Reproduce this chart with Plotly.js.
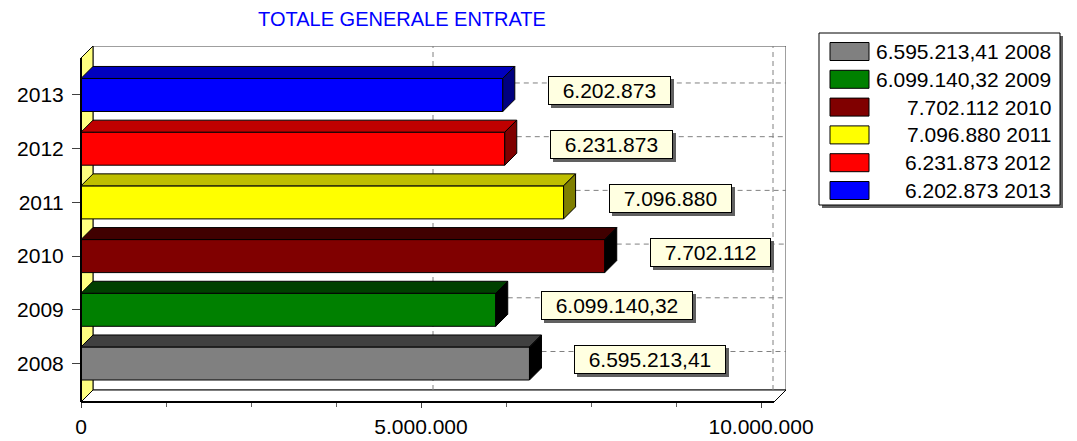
<!DOCTYPE html>
<html>
<head>
<meta charset="utf-8">
<script src="https://cdn.plot.ly/plotly-3.0.1.min.js"></script>
<style>
  html, body { margin: 0; padding: 0; background: #ffffff; }
  #chart { width: 1077px; height: 441px; }
</style>
</head>
<body>
<div id="chart"></div>
<script>
// data
const years = ['2008', '2009', '2010', '2011', '2012', '2013'];
const values = [6595213.41, 6099140.32, 7702112, 7096880, 6231873, 6202873];
const barColors = ['#808080', '#008000', '#800000', '#FFFF00', '#FF0000', '#0000FF'];
const xTicks = [0, 5000000, 10000000];

// plot box in pixels (front axes + 3D depth)
const L = 81, T = 46, W = 705, H = 356, DEPTH = 12;
const xMax = 10367650;
const yMin = -0.717, yMax = 5.912;
const dx = xMax * DEPTH / W;
const dy = (yMax - yMin) * DEPTH / H;
const xMaxFront = xMax - dx, yMaxFront = yMax - dy;
const barHalf = 0.3075;
const font = 'Liberation Sans, Arial, sans-serif';

const idx = years.map((_, i) => i);

function shade(hex, amt) {
  const n = parseInt(hex.slice(1), 16);
  const c = [(n >> 16) & 255, (n >> 8) & 255, n & 255].map(v => Math.max(v - amt, 0));
  return 'rgb(' + c.join(',') + ')';
}

function fmtIt(v) {
  let [ip, dp] = v.toFixed(2).split('.');
  ip = ip.replace(/\B(?=(\d{3})+(?!\d))/g, '.');
  return dp === '00' ? ip : ip + ',' + dp;
}

const px2x = px => (px - L) / W;
const px2y = py => (T + H - py) / H;

// front faces
const traces = [{
  type: 'bar',
  orientation: 'h',
  x: values,
  y: idx,
  base: 0,
  width: barHalf * 2,
  marker: { color: barColors, line: { color: '#000000', width: 1 } },
  hoverinfo: 'skip'
}];

// top and side faces
idx.forEach(i => {
  const v = values[i];
  traces.push({
    type: 'scatter', mode: 'lines', fill: 'toself',
    x: [0, v, v + dx, dx, 0],
    y: [i + barHalf, i + barHalf, i + barHalf + dy, i + barHalf + dy, i + barHalf],
    fillcolor: shade(barColors[i], 64),
    line: { color: '#000000', width: 1 },
    hoverinfo: 'skip'
  });
  traces.push({
    type: 'scatter', mode: 'lines', fill: 'toself',
    x: [v, v + dx, v + dx, v, v],
    y: [i - barHalf, i - barHalf + dy, i + barHalf + dy, i + barHalf, i - barHalf],
    fillcolor: shade(barColors[i], 128),
    line: { color: '#000000', width: 1 },
    hoverinfo: 'skip'
  });
});

const shapes = [];
// back wall
shapes.push({ type: 'rect', xref: 'x', yref: 'y', layer: 'below',
  x0: dx, x1: xMax, y0: yMin + dy, y1: yMax,
  fillcolor: '#ffffff', line: { color: '#404040', width: 1 } });
// left wall
shapes.push({ type: 'path', xref: 'x', yref: 'y', layer: 'below',
  path: `M0,${yMin} L0,${yMaxFront} L${dx},${yMax} L${dx},${yMin + dy} Z`,
  fillcolor: '#FFFF80', line: { color: '#000000', width: 1 } });
// floor
shapes.push({ type: 'path', xref: 'x', yref: 'y', layer: 'below',
  path: `M0,${yMin} L${xMaxFront},${yMin} L${xMax},${yMin + dy} L${dx},${yMin + dy} Z`,
  fillcolor: '#ffffff', line: { color: '#000000', width: 1 } });
// dashed grid on the back wall
xTicks.slice(1).forEach(t => {
  shapes.push({ type: 'line', xref: 'x', yref: 'y', layer: 'below',
    x0: t + dx, x1: t + dx, y0: yMin + dy, y1: yMax,
    line: { color: '#808080', width: 1, dash: '5px,4px' } });
});
idx.forEach(i => {
  shapes.push({ type: 'line', xref: 'x', yref: 'y', layer: 'below',
    x0: values[i] + dx, x1: xMax, y0: i + dy, y1: i + dy,
    line: { color: '#808080', width: 1, dash: '5px,4px' } });
});
// front axis lines
shapes.push({ type: 'line', xref: 'paper', yref: 'paper', layer: 'above',
  x0: 0, x1: 0, y0: 0, y1: (yMaxFront - yMin) / (yMax - yMin),
  line: { color: '#000000', width: 2 } });
shapes.push({ type: 'line', xref: 'paper', yref: 'paper', layer: 'above',
  x0: 0, x1: xMaxFront / xMax, y0: 0, y1: 0,
  line: { color: '#000000', width: 2 } });

// value labels with shadow
const annotations = [];
idx.forEach(i => {
  const txt = '\u00a0\u00a0' + fmtIt(values[i]) + '\u00a0\u00a0';
  const common = { xref: 'x', yref: 'y', x: values[i], y: i, showarrow: false,
    xanchor: 'left', yanchor: 'middle', borderwidth: 1, borderpad: 2 };
  annotations.push(Object.assign({}, common, {
    text: txt, xshift: 48, yshift: 1,
    bgcolor: '#606060', bordercolor: '#606060',
    font: { family: font, size: 21, color: '#606060' } }));
  annotations.push(Object.assign({}, common, {
    text: txt, xshift: 45, yshift: 4,
    bgcolor: '#FFFFE1', bordercolor: '#000000',
    font: { family: font, size: 21, color: '#000000' } }));
});

// legend box
const legTop = 33, legRow = 27.8, legFirst = 51.5;
shapes.push({ type: 'rect', xref: 'paper', yref: 'paper',
  x0: px2x(822), x1: px2x(1063), y0: px2y(36), y1: px2y(208),
  fillcolor: '#606060', line: { width: 0 } });
shapes.push({ type: 'rect', xref: 'paper', yref: 'paper',
  x0: px2x(819), x1: px2x(1060), y0: px2y(legTop), y1: px2y(205),
  fillcolor: '#ffffff', line: { color: '#000000', width: 1 } });
idx.forEach(i => {
  const cy = legFirst + i * legRow;
  shapes.push({ type: 'rect', xref: 'paper', yref: 'paper',
    x0: px2x(830), x1: px2x(869), y0: px2y(cy - 9), y1: px2y(cy + 9),
    fillcolor: barColors[i], line: { color: '#000000', width: 1 } });
  annotations.push({ xref: 'paper', yref: 'paper', x: px2x(1053), y: px2y(cy),
    xanchor: 'right', yanchor: 'middle', showarrow: false,
    text: fmtIt(values[i]) + ' ' + years[i],
    font: { family: font, size: 21, color: '#000000' } });
});

const layout = {
  width: 1077,
  height: 441,
  margin: { l: L, r: 1077 - L - W, t: T, b: 441 - T - H },
  paper_bgcolor: '#ffffff',
  plot_bgcolor: '#ffffff',
  separators: ',.',
  showlegend: false,
  title: {
    text: 'TOTALE GENERALE ENTRATE',
    font: { family: font, size: 20, color: '#0000FF' },
    x: 402 / 1077, xanchor: 'center',
    y: 1 - 19 / 441, yanchor: 'middle'
  },
  xaxis: {
    range: [0, xMax],
    tickvals: xTicks,
    tickformat: ',d',
    ticks: 'outside', ticklen: 5, tickcolor: '#404040',
    minor: { dtick: 1250000, ticks: 'outside', ticklen: 4, tickcolor: '#606060' },
    ticklabelstandoff: 1,
    showgrid: false, zeroline: false, showline: false,
    tickfont: { family: font, size: 21, color: '#000000' }
  },
  yaxis: {
    range: [yMin, yMax],
    tickvals: idx,
    ticktext: years,
    ticks: 'outside', ticklen: 8, tickcolor: '#404040',
    ticklabelstandoff: 4,
    showgrid: false, zeroline: false, showline: false,
    tickfont: { family: font, size: 21, color: '#000000' }
  },
  shapes: shapes,
  annotations: annotations
};

Plotly.newPlot('chart', traces, layout, { staticPlot: true, displayModeBar: false });
</script>
</body>
</html>
